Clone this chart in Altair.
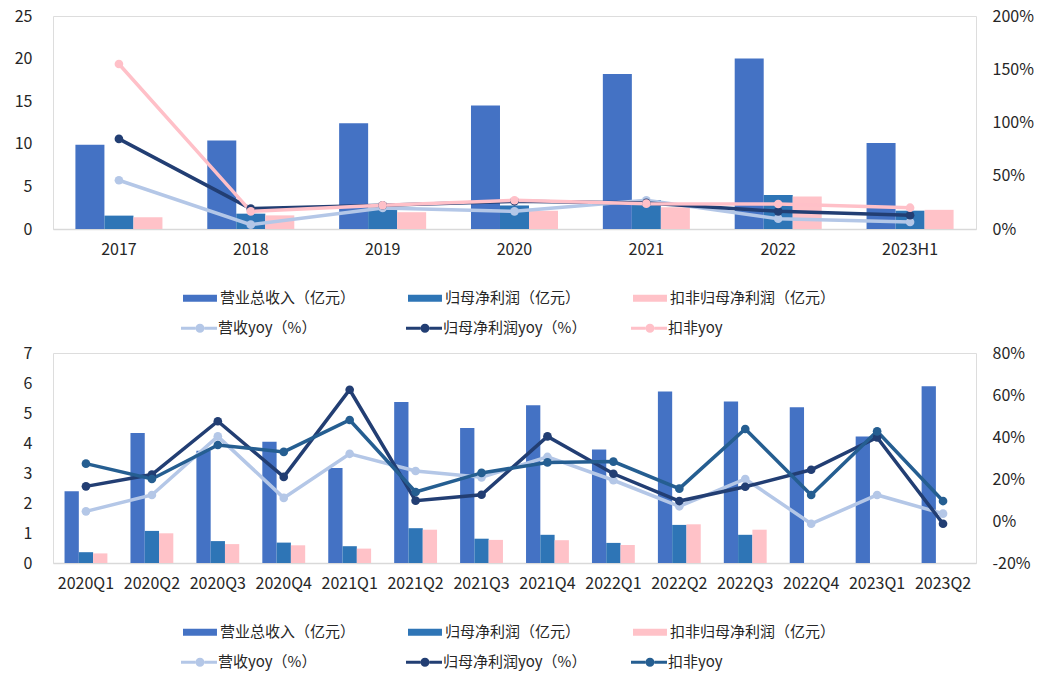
import altair as alt
import pandas as pd

FONT = "Noto Sans CJK SC"

# ---------------- data ----------------
years = ["2017", "2018", "2019", "2020", "2021", "2022", "2023H1"]
rev_y = [9.9, 10.4, 12.4, 14.5, 18.2, 20.0, 10.1]
np_y = [1.57, 1.8, 2.44, 2.76, 3.4, 4.0, 2.15]
dnp_y = [1.37, 1.6, 1.97, 2.14, 2.55, 3.8, 2.25]
rev_yoy_y = [45.8, 4.1, 19.7, 16.6, 27.0, 9.7, 6.6]
np_yoy_y = [84.6, 19.1, 22.3, 26.0, 24.5, 16.6, 12.9]
dnp_yoy_y = [154.9, 16.6, 22.3, 27.0, 23.8, 23.5, 20.0]

quarters = ["2020Q1", "2020Q2", "2020Q3", "2020Q4", "2021Q1", "2021Q2", "2021Q3",
            "2021Q4", "2022Q1", "2022Q2", "2022Q3", "2022Q4", "2023Q1", "2023Q2"]
rev_q = [2.39, 4.33, 3.74, 4.04, 3.17, 5.37, 4.5, 5.26, 3.78, 5.72, 5.38, 5.19, 4.22, 5.89]
np_q = [0.36, 1.07, 0.73, 0.68, 0.56, 1.16, 0.81, 0.94, 0.67, 1.27, 0.94, None, None, None]
dnp_q = [0.32, 0.99, 0.63, 0.59, 0.48, 1.11, 0.77, 0.76, 0.6, 1.29, 1.11, None, None, None]
rev_yoy_q = [4.6, 12.4, 40.3, 11.0, 32.0, 23.8, 20.8, 30.5, 19.4, 7.0, 20.0, -1.3, 12.4, 3.5]
np_yoy_q = [16.5, 22.1, 47.5, 21.0, 62.5, 9.7, 12.5, 40.3, 22.5, 9.5, 16.3, 24.4, 39.8, -1.3]
dnp_yoy_q = [27.3, 20.0, 36.2, 32.9, 48.1, 13.8, 22.9, 27.9, 28.3, 15.4, 43.8, 12.4, 42.7, 9.5]

bar_names = ["营业总收入（亿元）", "归母净利润（亿元）", "扣非归母净利润（亿元）"]
bar_colors = ["#4472C4", "#2E75B6", "#FFC2C8"]
line_names = ["营收yoy（%）", "归母净利润yoy（%）", "扣非yoy"]
line_colors_top = ["#B4C7E7", "#223E73", "#FFC0C8"]
line_colors_bot = ["#B4C7E7", "#223E73", "#255E91"]

BAR_SYMBOL = "M-1,-0.47H3.53V0.47H-1Z"
LINE_SYMBOL = ("M-1,-0.2H0.93V0.2H-1Z "
               "M0.93,0A0.6,0.6 0 1,1 2.13,0A0.6,0.6 0 1,1 0.93,0Z "
               "M2.13,-0.2H3.8V0.2H2.13Z")


def long_df(cats, names, series):
    rows = []
    for order, (name, vals) in enumerate(zip(names, series)):
        for c, v in zip(cats, vals):
            if v is not None:
                rows.append({"cat": c, "s": name, "o": order, "v": v})
    return pd.DataFrame(rows)


def panel(cats, bar_series, line_series, line_colors, ymax, yvals, pvals, height, pad, leg_y, tag):
    bdf = long_df(cats, bar_names, bar_series)
    ldf = long_df(cats, line_names, line_series)
    bdf = bdf.rename(columns={"s": "bar" + tag})
    ldf = ldf.rename(columns={"s": "line" + tag})

    x_enc = alt.X("cat:N", sort=cats, title=None,
                  scale=alt.Scale(domain=cats, paddingInner=pad, paddingOuter=pad / 2),
                  axis=alt.Axis(labelAngle=0, ticks=False, domainColor="#D9D9D9",
                                domainWidth=1.5, labelPadding=12, labelFontSize=16,
                                labelColor="#262626", labelFont=FONT))

    bar_leg = alt.Legend(title=None, orient="none", legendX=130, legendY=leg_y[0],
                         direction="horizontal", columns=3, gridAlign="all",
                         columnPadding=22, symbolType=BAR_SYMBOL, symbolSize=225,
                         symbolStrokeWidth=0, labelOffset=22, labelFont=FONT,
                         labelFontSize=15, labelColor="#262626", labelLimit=400, padding=0)
    line_leg = alt.Legend(title=None, orient="none", legendX=128, legendY=leg_y[1],
                          direction="horizontal", columns=3, gridAlign="all",
                          columnPadding=44, symbolType=LINE_SYMBOL, symbolSize=225,
                          symbolStrokeWidth=0, labelOffset=22, labelFont=FONT,
                          labelFontSize=15, labelColor="#262626", labelLimit=400, padding=0)

    bars = alt.Chart(bdf).mark_bar().encode(
        x=x_enc,
        xOffset=alt.XOffset("bar" + tag + ":N", sort=bar_names,
                            scale=alt.Scale(domain=bar_names, paddingInner=0, paddingOuter=0)),
        y=alt.Y("v:Q", title=None,
                scale=alt.Scale(domain=[0, ymax], nice=False),
                axis=alt.Axis(values=yvals, grid=False, ticks=False, domain=False,
                              labelPadding=21, labelFontSize=16, labelColor="#262626",
                              labelFont=FONT)),
        color=alt.Color("bar" + tag + ":N", sort=bar_names,
                        scale=alt.Scale(domain=bar_names, range=bar_colors),
                        legend=bar_leg),
    )

    y_line = alt.Y("v:Q", title=None,
                   scale=alt.Scale(domain=[pvals[0], pvals[-1]], nice=False),
                   axis=alt.Axis(orient="right", values=pvals, grid=False, ticks=False,
                                 domain=False, labelPadding=16, labelFontSize=16,
                                 labelColor="#262626", labelFont=FONT,
                                 labelExpr="datum.value + '%'"))
    col_line = alt.Color("line" + tag + ":N", sort=line_names,
                         scale=alt.Scale(domain=line_names, range=line_colors),
                         legend=line_leg)
    base = alt.Chart(ldf).encode(x=alt.X("cat:N", sort=cats), y=y_line, color=col_line,
                                 order=alt.Order("o:Q"))
    lines = base.mark_line(strokeWidth=3.5)
    pts = base.mark_circle(size=75, opacity=1)

    return alt.layer(bars, alt.layer(lines, pts)).resolve_scale(
        y="independent", color="independent"
    ).properties(width=923, height=height)


top = panel(years, [rev_y, np_y, dnp_y], [rev_yoy_y, np_yoy_y, dnp_yoy_y], line_colors_top,
            25, [0, 5, 10, 15, 20, 25], [0, 50, 100, 150, 200], 213, 0.34,
            (274.5, 304.5), "T")
bottom = panel(quarters, [rev_q, np_q, dnp_q], [rev_yoy_q, np_yoy_q, dnp_yoy_q], line_colors_bot,
               7, [0, 1, 2, 3, 4, 5, 6, 7], [-20, 0, 20, 40, 60, 80], 210, 0.35,
               (271.5, 301.5), "B")

chart = alt.vconcat(top, bottom, spacing=7).resolve_scale(
    color="independent", xOffset="independent", x="independent"
).properties(
    padding={"left": 13, "top": 7, "right": 5, "bottom": 5}
).configure_view(stroke=None).configure(font=FONT)

chart.save("out.html", embed_options={"renderer": "svg", "actions": False})
